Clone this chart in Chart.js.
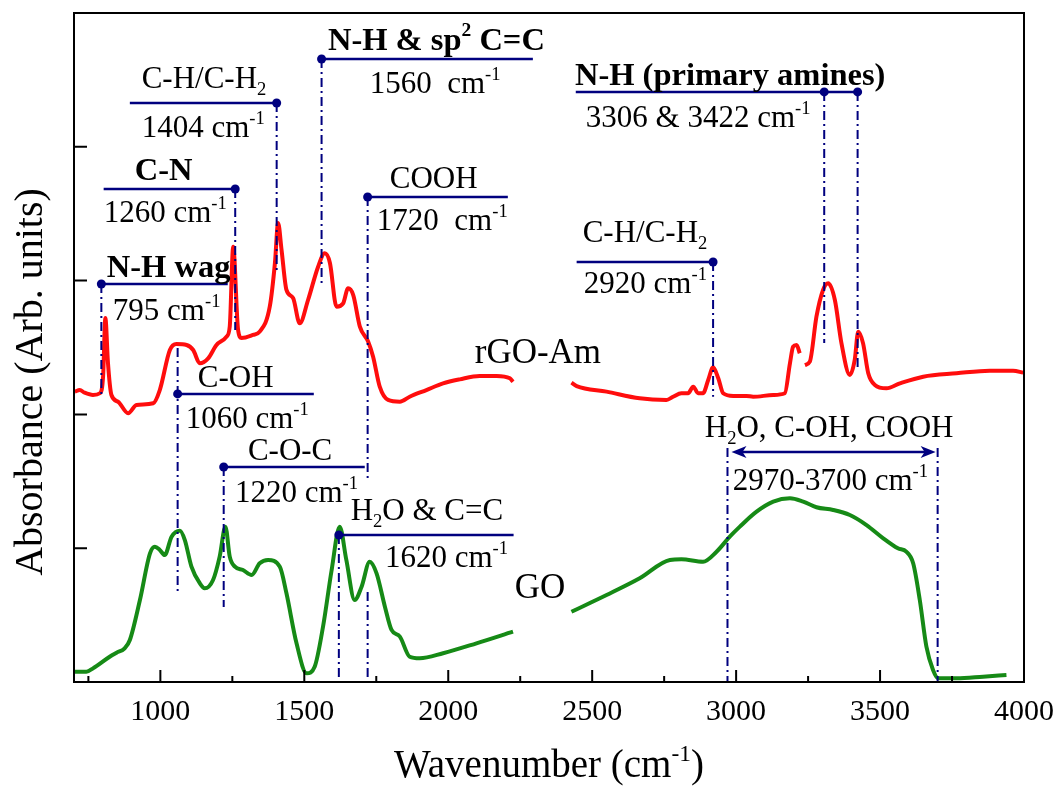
<!DOCTYPE html>
<html>
<head>
<meta charset="utf-8">
<script src="https://cdn.jsdelivr.net/npm/chart.js@4.4.1/dist/chart.umd.min.js"></script>
<style>
  html, body { margin: 0; padding: 0; background: #ffffff; }
  #wrap { width: 1061px; height: 787px; position: relative; }
</style>
</head>
<body>
<div id="wrap"><canvas id="ftir" width="1061" height="787"></canvas></div>
<script>
// FTIR spectra (wavenumber in cm^-1, absorbance in arbitrary units, offset traces)
const rgoAmWavenumber = [703, 720, 737, 766, 790, 801, 809, 818, 830, 853, 888, 917, 975, 998, 1033, 1056, 1091, 1114, 1137, 1166, 1195, 1230, 1241, 1253, 1270, 1282, 1322, 1345, 1380, 1398, 1409, 1421, 1438, 1461, 1484, 1513, 1548, 1571, 1589, 1612, 1635, 1652, 1670, 1693, 1722, 1739, 1762, 1791, 1832, 1866, 1924, 1982, 2040, 2109, 2168, 2214, 2225, 2320, 2428, 2446, 2550, 2665, 2758, 2781, 2810, 2833, 2851, 2868, 2885, 2903, 2920, 2938, 2955, 2990, 3036, 3059, 3129, 3169, 3187, 3198, 3210, 3221, 3230, 3239, 3256, 3279, 3302, 3320, 3343, 3366, 3395, 3412, 3424, 3441, 3459, 3482, 3522, 3569, 3650, 3766, 3881, 3962, 3997];
const rgoAmAbsorbance = [2.170, 2.182, 2.162, 2.145, 2.158, 2.282, 2.720, 2.384, 2.145, 2.095, 2.008, 2.070, 2.083, 2.182, 2.481, 2.526, 2.519, 2.481, 2.382, 2.419, 2.519, 2.581, 2.656, 3.253, 2.631, 2.571, 2.594, 2.618, 2.805, 3.132, 3.431, 3.229, 2.930, 2.870, 2.681, 2.855, 3.104, 3.204, 3.132, 2.805, 2.830, 2.942, 2.892, 2.656, 2.543, 2.431, 2.207, 2.108, 2.095, 2.132, 2.182, 2.232, 2.262, 2.287, 2.287, 2.270, 2.244, null, 2.237, 2.212, 2.170, 2.120, 2.108, 2.132, 2.158, 2.158, 2.207, 2.158, 2.158, 2.257, 2.352, 2.270, 2.158, 2.138, 2.138, 2.132, 2.145, 2.158, 2.382, 2.506, 2.519, 2.457, null, 2.369, 2.394, 2.730, 2.930, 2.980, 2.855, 2.531, 2.295, 2.407, 2.618, 2.531, 2.307, 2.220, 2.195, 2.232, 2.282, 2.307, 2.327, 2.327, 2.312];

const goWavenumber = [703, 743, 766, 824, 848, 876, 894, 929, 964, 981, 998, 1015, 1039, 1068, 1085, 1108, 1137, 1154, 1183, 1206, 1226, 1241, 1259, 1287, 1317, 1345, 1374, 1415, 1438, 1473, 1508, 1536, 1565, 1595, 1623, 1646, 1675, 1699, 1727, 1751, 1780, 1803, 1832, 1866, 1901, 1982, 2098, 2225, 2320, 2428, 2550, 2665, 2770, 2810, 2885, 2932, 2978, 3013, 3071, 3129, 3187, 3233, 3279, 3337, 3395, 3453, 3511, 3562, 3591, 3615, 3638, 3661, 3684, 3702, 3766, 3858, 3939];
const goAbsorbance = [0.077, 0.077, 0.102, 0.189, 0.219, 0.252, 0.314, 0.613, 0.962, 1.011, 0.987, 0.949, 1.086, 1.131, 1.061, 0.862, 0.738, 0.700, 0.762, 0.937, 1.161, 0.937, 0.862, 0.837, 0.800, 0.887, 0.912, 0.862, 0.663, 0.289, 0.065, 0.114, 0.413, 0.837, 1.161, 0.912, 0.613, 0.712, 0.899, 0.812, 0.563, 0.389, 0.339, 0.189, 0.177, 0.215, 0.289, 0.376, null, 0.525, 0.650, 0.775, 0.912, 0.917, 0.899, 0.974, 1.086, 1.161, 1.273, 1.348, 1.373, 1.348, 1.306, 1.286, 1.248, 1.173, 1.074, 0.999, 0.974, 0.887, 0.613, 0.264, 0.090, 0.028, 0.028, 0.040, 0.052];

// Axis ticks
const xTickLabels = [1000, 1500, 2000, 2500, 3000, 3500, 4000];
const xMinorTicks = [750, 1250, 1750, 2250, 2750, 3250, 3750];
const yTicks = [1, 2, 3, 4];

// Band assignments: group name and the band positions (cm^-1)
const bandNames = ['N-H wag', 'C-OH', 'C-O-C', 'C-N', 'C-H/C-H_{2}', 'N-H & sp^{2} C=C', 'H_{2}O & C=C', 'COOH', 'C-H/C-H_{2}', 'N-H (primary amines)'];
const bandPositions = [[795], [1060], [1220], [1260], [1404], [1560], [1620], [1720], [2920], [3306, 3422]];
const rangeName = 'H_{2}O, C-OH, COOH';
const rangeBounds = [2970, 3700];
const seriesNames = ['rGO-Am', 'GO'];

// Placement of every callout in axis units (shelf line, drop lines, text anchors)
const calloutLayout = [
  { bold: true,  shelf: [795, 1234, 2.975],  drops: [[2.975, 2.132]], title: [814, 3.027],  value: [835, 2.706],  gap: ' ' },
  { bold: false, shelf: [1060, 1533, 2.153], drops: [[2.496, 0.650]], title: [1130, 2.205], value: [1088, 1.898], gap: ' ' },
  { bold: false, shelf: [1220, 1710, 1.607], drops: [[1.607, 0.561]], title: [1304, 1.659], value: [1259, 1.345], gap: ' ' },
  { bold: true,  shelf: [803, 1260, 3.685],  drops: [[3.685, 2.631]], title: [911, 3.752],  value: [803, 3.438],  gap: ' ' },
  { bold: false, shelf: [894, 1404, 4.327],  drops: [[4.327, 3.08]],  title: [935, 4.44],   value: [935, 4.073],  gap: ' ' },
  { bold: true,  shelf: [1560, 2294, 4.656], drops: [[4.656, 2.967]], title: [1582, 4.724], value: [1727, 4.402], gap: '  ' },
  { bold: false, shelf: [1620, 2227, 1.099], drops: [[1.099, 0]],     title: [1661, 1.211], value: [1780, 0.860], gap: ' ' },
  { bold: false, shelf: [1720, 2207, 3.625], drops: [[3.625, 1.525], [0.673, 0]], title: [1797, 3.692], value: [1752, 3.378], gap: '  ' },
  { bold: false, shelf: [2446, 2920, 3.139], drops: [[3.139, 2.132]], title: [2467, 3.289], value: [2471, 2.907], gap: ' ' },
  { bold: true,  shelf: [2443, 3422, 4.410], drops: [[4.410, 2.534], [4.410, 2.332]], title: [2440, 4.462], value: [2478, 4.148], gap: ' ' }
];
const rangeLayout = { arrowY: 1.719, dropTop: 1.749, title: [2891, 1.831], value: [2988, 1.435] };
const seriesLabelLayout = [[2092, 2.384], [2231, 0.628]];

const NAVY = '#00007f';
const SERIF = "'Liberation Serif', 'Times New Roman', serif";
const LABEL_SIZE = 31;
const BOLD_LABEL_SIZE = 32.5;

function toPoints(xs, ys) {
  return xs.map((x, i) => ({ x: x, y: ys[i] }));
}

// Text with _{sub} and ^{sup} segments
function richParts(str) {
  return str.split(/(\^\{[^}]*\}|_\{[^}]*\})/).filter(s => s.length);
}
function richWidth(ctx, str, size, bold) {
  let w = 0;
  for (const p of richParts(str)) {
    let t = p, s = size;
    if (p.startsWith('^{') || p.startsWith('_{')) { t = p.slice(2, -1); s = size * 0.6; }
    ctx.font = (bold ? 'bold ' : '') + s + 'px ' + SERIF;
    w += ctx.measureText(t).width;
  }
  return w;
}
function drawRich(ctx, str, x, y, size, bold) {
  let cx = x;
  for (const p of richParts(str)) {
    let t = p, s = size, dy = 0;
    if (p.startsWith('^{')) { t = p.slice(2, -1); s = size * 0.6; dy = -size * 0.42; }
    else if (p.startsWith('_{')) { t = p.slice(2, -1); s = size * 0.6; dy = size * 0.24; }
    ctx.font = (bold ? 'bold ' : '') + s + 'px ' + SERIF;
    ctx.fillText(t, cx, y + dy);
    cx += ctx.measureText(t).width;
  }
}

const decorations = {
  id: 'decorations',
  afterDatasetsDraw(chart) {
    const ctx = chart.ctx;
    const xs = chart.scales.x, ys = chart.scales.y;
    const px = v => xs.getPixelForValue(v);
    const py = v => ys.getPixelForValue(v);
    ctx.save();
    ctx.textBaseline = 'alphabetic';
    ctx.textAlign = 'left';

    // band callouts
    bandNames.forEach((name, i) => {
      const L = calloutLayout[i];
      const wns = bandPositions[i];
      ctx.strokeStyle = NAVY;
      ctx.fillStyle = NAVY;
      // drop lines (dash-dot)
      ctx.lineWidth = 2;
      ctx.setLineDash([9, 4, 2, 4]);
      L.drops.forEach((d, k) => {
        const wn = wns[Math.min(k, wns.length - 1)];
        ctx.beginPath();
        ctx.moveTo(px(wn), py(d[0]));
        ctx.lineTo(px(wn), py(d[1]));
        ctx.stroke();
      });
      // shelf line
      ctx.setLineDash([]);
      ctx.lineWidth = 2.5;
      ctx.beginPath();
      ctx.moveTo(px(L.shelf[0]), py(L.shelf[2]));
      ctx.lineTo(px(L.shelf[1]), py(L.shelf[2]));
      ctx.stroke();
      // dots at band positions
      wns.forEach(wn => {
        ctx.beginPath();
        ctx.arc(px(wn), py(L.shelf[2]), 4.5, 0, Math.PI * 2);
        ctx.fill();
      });
      // texts
      ctx.fillStyle = '#000';
      drawRich(ctx, name, px(L.title[0]), py(L.title[1]), L.bold ? BOLD_LABEL_SIZE : LABEL_SIZE, L.bold);
      drawRich(ctx, wns.join(' & ') + L.gap + 'cm^{-1}', px(L.value[0]), py(L.value[1]), LABEL_SIZE, false);
    });

    // broad band range with double arrow
    ctx.strokeStyle = NAVY;
    ctx.fillStyle = NAVY;
    ctx.lineWidth = 2;
    ctx.setLineDash([9, 4, 2, 4]);
    rangeBounds.forEach(wn => {
      ctx.beginPath();
      ctx.moveTo(px(wn), py(rangeLayout.dropTop));
      ctx.lineTo(px(wn), py(0));
      ctx.stroke();
    });
    ctx.setLineDash([]);
    const ax1 = px(rangeBounds[0]) + 4, ax2 = px(rangeBounds[1]) - 2, ay = py(rangeLayout.arrowY);
    ctx.lineWidth = 2.5;
    ctx.beginPath();
    ctx.moveTo(ax1 + 8, ay);
    ctx.lineTo(ax2 - 8, ay);
    ctx.stroke();
    [[ax1, 1], [ax2, -1]].forEach(([x, dir]) => {
      ctx.beginPath();
      ctx.moveTo(x, ay);
      ctx.lineTo(x + dir * 15, ay - 6);
      ctx.lineTo(x + dir * 11, ay);
      ctx.lineTo(x + dir * 15, ay + 6);
      ctx.closePath();
      ctx.fill();
    });
    ctx.fillStyle = '#000';
    drawRich(ctx, rangeName, px(rangeLayout.title[0]), py(rangeLayout.title[1]), LABEL_SIZE, false);
    drawRich(ctx, rangeBounds.join('-') + ' cm^{-1}', px(rangeLayout.value[0]), py(rangeLayout.value[1]), LABEL_SIZE, false);

    // series names
    seriesNames.forEach((n, i) => {
      drawRich(ctx, n, px(seriesLabelLayout[i][0]), py(seriesLabelLayout[i][1]), 35, false);
    });
    ctx.restore();
  },
  afterDraw(chart) {
    const ctx = chart.ctx;
    const a = chart.chartArea;
    const xs = chart.scales.x, ys = chart.scales.y;
    ctx.save();
    ctx.strokeStyle = '#000';
    ctx.lineWidth = 2;
    ctx.setLineDash([]);
    // inward ticks
    ctx.beginPath();
    xTickLabels.forEach(v => { const x = xs.getPixelForValue(v); ctx.moveTo(x, a.bottom); ctx.lineTo(x, a.bottom - 12); });
    xMinorTicks.forEach(v => { const x = xs.getPixelForValue(v); ctx.moveTo(x, a.bottom); ctx.lineTo(x, a.bottom - 6); });
    yTicks.forEach(v => { const y = ys.getPixelForValue(v); ctx.moveTo(a.left, y); ctx.lineTo(a.left + 13, y); });
    ctx.stroke();
    // frame
    ctx.strokeRect(a.left, a.top, a.right - a.left, a.bottom - a.top);

    // axis titles
    ctx.fillStyle = '#000';
    ctx.textBaseline = 'alphabetic';
    ctx.textAlign = 'left';
    const xt = 'Wavenumber (cm^{-1})';
    const xw = richWidth(ctx, xt, 39, false);
    drawRich(ctx, xt, (a.left + a.right) / 2 - xw / 2, 777, 39, false);
    const yt = 'Absorbance (Arb. units)';
    const yw = richWidth(ctx, yt, 40, false);
    ctx.translate(42, 382);
    ctx.rotate(-Math.PI / 2);
    drawRich(ctx, yt, -yw / 2, 0, 40, false);
    ctx.restore();
  }
};

new Chart(document.getElementById('ftir'), {
  type: 'line',
  data: {
    datasets: [
      {
        label: seriesNames[1],
        data: toPoints(goWavenumber, goAbsorbance),
        borderColor: '#168a16',
        borderWidth: 4,
        pointRadius: 0,
        cubicInterpolationMode: 'monotone',
        spanGaps: false,
        fill: false
      },
      {
        label: seriesNames[0],
        data: toPoints(rgoAmWavenumber, rgoAmAbsorbance),
        borderColor: '#ff0d0d',
        borderWidth: 4,
        pointRadius: 0,
        cubicInterpolationMode: 'monotone',
        spanGaps: false,
        fill: false
      }
    ]
  },
  options: {
    responsive: false,
    animation: false,
    events: [],
    layout: { padding: { top: 13, right: 37, left: 0, bottom: 0 } },
    plugins: { legend: { display: false }, tooltip: { enabled: false }, title: { display: false } },
    scales: {
      x: {
        type: 'linear',
        min: 700,
        max: 4000,
        grid: { display: false, drawTicks: false },
        border: { display: false },
        afterBuildTicks: s => { s.ticks = xTickLabels.map(v => ({ value: v })); },
        afterFit: s => { s.height = 105; s.paddingLeft = 0; s.paddingRight = 0; },
        ticks: {
          color: '#000',
          padding: 12,
          maxRotation: 0,
          autoSkip: false,
          font: { family: SERIF, size: 30 },
          callback: v => String(v)
        }
      },
      y: {
        type: 'linear',
        min: 0,
        max: 5,
        grid: { display: false, drawTicks: false },
        border: { display: false },
        ticks: { display: false },
        afterFit: s => { s.width = 74; }
      }
    }
  },
  plugins: [decorations]
});
</script>
</body>
</html>
